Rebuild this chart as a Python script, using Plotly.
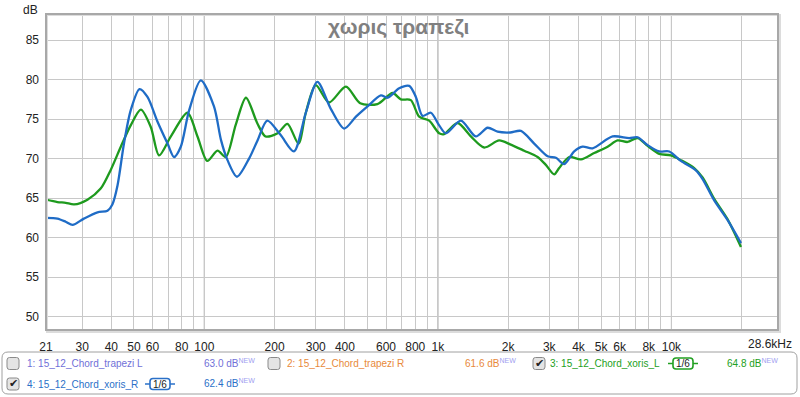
import math
import plotly.graph_objects as go

# ---------------- data ----------------
blue_freq = [21, 23.5, 25.5, 27.3, 30.5, 34.9, 38.5, 40.4, 42.5, 45.3, 48.4, 52.8, 57.1, 63, 69.6, 74.2,
             79.3, 86.1, 96.6, 110, 118, 125.7, 138, 155.5, 169, 186, 212, 242, 272, 305, 348, 397, 446,
             500, 570, 609, 683, 754, 805, 860, 933, 1013, 1082, 1255, 1454, 1633, 1802, 2040, 2268,
             2585, 2950, 3202, 3475, 3835, 4166, 4597, 5600, 6595, 7170, 7910, 8870, 9790, 10980,
             12730, 13600, 15250, 17410, 19850]
blue_db = [62.5, 62.4, 62.0, 61.6, 62.4, 63.2, 63.4, 64.2, 66.6, 71.9, 76.1, 78.8, 77.8, 74.7, 71.9, 70.2,
           71.5, 76.1, 79.9, 76.6, 72.3, 69.8, 67.7, 70.0, 72.3, 74.8, 73.0, 70.9, 75.8, 79.7, 76.3, 73.8, 75.3,
           76.6, 78.0, 77.7, 78.9, 79.2, 77.8, 75.4, 75.8, 74.2, 73.2, 74.8, 72.8, 73.9, 73.4, 73.3, 73.5,
           71.9, 70.3, 70.1, 69.3, 70.9, 71.5, 71.3, 72.8, 72.6, 72.7, 71.7, 70.9, 70.9, 69.7,
           68.5, 67.4, 64.7, 62.2, 59.3]

green_freq = [21, 23.5, 25.5, 27.7, 31.6, 36.0, 39.8, 43.9, 48.4, 53.5, 59.0, 64.0, 71.9, 84.7, 93.5, 103,
              113.9, 123.6, 136.4, 150.8, 169, 183, 206, 227, 253, 272, 300, 342, 404, 465, 551, 640, 694,
              766, 832, 918, 1013, 1064, 1215, 1385, 1579, 1830, 2040, 2342, 2673, 2900, 3150, 3307, 3650,
              4097, 4670, 5330, 5880, 6490, 7170, 7910, 8870, 9950, 10980, 12520, 13600, 15250, 17410, 19850]
green_db = [64.8, 64.5, 64.4, 64.2, 64.8, 66.2, 68.6, 71.5, 74.2, 76.2, 74.0, 70.4, 72.8, 75.8, 72.8, 69.7,
            71.0, 70.2, 74.3, 77.7, 74.4, 72.8, 73.2, 74.4, 71.9, 75.8, 79.3, 77.1, 79.1, 77.0, 76.9, 78.3, 77.5,
            77.4, 75.3, 74.8, 73.2, 73.1, 74.5, 72.8, 71.4, 72.3, 71.8, 71.0, 70.2, 69.2, 68.0, 68.8, 70.2,
            69.9, 70.7, 71.5, 72.3, 72.1, 72.6, 71.6, 70.6, 70.4, 69.8, 68.8, 67.6, 64.9, 62.3, 58.8]

label_freqs = [21, 30, 40, 50, 60, 80, 100, 200, 300, 400, 600, 800,
               1000, 2000, 3000, 4000, 5000, 6000, 8000, 10000]
label_texts = ["21", "30", "40", "50", "60", "80", "100", "200", "300", "400", "600", "800",
               "1k", "2k", "3k", "4k", "5k", "6k", "8k", "10k"]
minor_grid_freqs = [70, 90, 500, 700, 900, 7000, 9000, 20000]
decade_freqs = [100, 1000, 10000]
y_ticks = [50, 55, 60, 65, 70, 75, 80, 85]

legend_names = ["1: 15_12_Chord_trapezi L", "2: 15_12_Chord_trapezi R",
                "3: 15_12_Chord_xoris_L", "4: 15_12_Chord_xoris_R"]
legend_levels = ["63.0 dB", "61.6 dB", "64.8 dB", "62.4 dB"]
legend_colors = ["#7070d8", "#e8893a", "#22a022", "#2a70c8"]
legend_checked = [False, False, True, True]

BLUE = "#1f6cc6"
GREEN = "#1e9a1e"

# ---------------- geometry helpers ----------------
L, R, T, B = 46, 778, 14, 330
W, H = 800, 397


def px(x):
    return (x - L) / (R - L)


def py(y):
    return (B - y) / (B - T)


def rrect(x0, y0, x1, y1, r):
    rx = r / (R - L)
    ry = r / (B - T)
    X0, X1, Y0, Y1 = px(x0), px(x1), py(y1), py(y0)
    return (f"M {X0+rx},{Y0} L {X1-rx},{Y0} Q {X1},{Y0} {X1},{Y0+ry} L {X1},{Y1-ry} "
            f"Q {X1},{Y1} {X1-rx},{Y1} L {X0+rx},{Y1} Q {X0},{Y1} {X0},{Y1-ry} "
            f"L {X0},{Y0+ry} Q {X0},{Y0} {X0+rx},{Y0} Z")


fig = go.Figure()
fig.add_trace(go.Scatter(x=green_freq, y=green_db, mode="lines",
                         line=dict(color=GREEN, width=2.3, shape="spline", smoothing=0.8),
                         hoverinfo="skip", showlegend=False))
fig.add_trace(go.Scatter(x=blue_freq, y=blue_db, mode="lines",
                         line=dict(color=BLUE, width=2.3, shape="spline", smoothing=0.8),
                         hoverinfo="skip", showlegend=False))

shapes = []
for f in decade_freqs:
    shapes.append(dict(type="line", xref="x", yref="paper", x0=f, x1=f, y0=0, y1=1,
                       line=dict(color="#8c8c8c", width=1), layer="below"))
# plot frame with shadow
shapes.append(dict(type="rect", xref="paper", yref="paper", x0=px(L + 1), x1=px(R + 2), y0=py(B + 2), y1=py(T + 1),
                   line=dict(color="#dcdcdc", width=2), layer="above"))
shapes.append(dict(type="rect", xref="paper", yref="paper", x0=0, x1=1, y0=0, y1=1,
                   line=dict(color="#a8a8a8", width=2), layer="above"))

# legend box
shapes.append(dict(type="path", xref="paper", yref="paper", path=rrect(2, 352, 797, 394, 6),
                   line=dict(color="#a0a0a0", width=1), fillcolor="#ffffff"))

annotations = []
annotations.append(dict(text="<b>χωρις τραπεζι</b>", xref="paper", yref="paper", x=px(398), y=py(27),
                        showarrow=False, font=dict(family="Liberation Sans", size=21, color="#808080"),
                        xanchor="center", yanchor="middle"))
annotations.append(dict(text="dB", xref="paper", yref="paper", x=px(40), y=py(1), showarrow=False,
                        font=dict(family="Liberation Sans", size=12, color="#222222"),
                        xanchor="right", yanchor="top"))
annotations.append(dict(text="28.6kHz", xref="paper", yref="paper", x=px(794), y=py(344), showarrow=False,
                        font=dict(family="Liberation Sans", size=12, color="#222222"),
                        xanchor="right", yanchor="middle"))

# legend entries: (checkbox x, text x, level x, row y, smoothing box x)
entries = [
    (7, 25, 202, 363.5, None),
    (268, 285, 463, 363.5, None),
    (533, 548, 725, 363.5, 668),
    (7, 25, 202, 384, 145),
]
for i, (cx, tx, lx, ry, sx) in enumerate(entries):
    col = legend_colors[i]
    shapes.append(dict(type="path", xref="paper", yref="paper", path=rrect(cx, ry - 6, cx + 12, ry + 6, 2.5),
                       line=dict(color="#8a8a8a", width=1), fillcolor="#e4e4e4"))
    if legend_checked[i]:
        annotations.append(dict(text="✔", xref="paper", yref="paper", x=px(cx + 6.5), y=py(ry - 0.5),
                                showarrow=False, font=dict(family="DejaVu Sans", size=11, color="#222222"),
                                xanchor="center", yanchor="middle"))
    annotations.append(dict(text=legend_names[i], xref="paper", yref="paper", x=px(tx), y=py(ry),
                            showarrow=False, font=dict(family="Liberation Sans", size=10, color=col),
                            xanchor="left", yanchor="middle"))
    annotations.append(dict(text=f"{legend_levels[i]}<sup><span style='color:#a0a0f0'>NEW</span></sup>",
                            xref="paper", yref="paper", x=px(lx), y=py(ry - 1),
                            showarrow=False, font=dict(family="Liberation Sans", size=10, color=col),
                            xanchor="left", yanchor="middle"))
    if sx is not None:
        shapes.append(dict(type="line", xref="paper", yref="paper", x0=px(sx), x1=px(sx + 30), y0=py(ry), y1=py(ry),
                           line=dict(color=col, width=1.5)))
        shapes.append(dict(type="path", xref="paper", yref="paper", path=rrect(sx + 5, ry - 5.5, sx + 25, ry + 5.5, 3),
                           line=dict(color=col, width=1.6), fillcolor="#ffffff"))
        annotations.append(dict(text="1/6", xref="paper", yref="paper", x=px(sx + 15), y=py(ry),
                                showarrow=False, font=dict(family="Liberation Sans", size=10, color="#222222"),
                                xanchor="center", yanchor="middle"))

fig.update_layout(
    width=W, height=H, autosize=False,
    margin=dict(l=L, r=W - R, t=T, b=H - B, pad=0),
    paper_bgcolor="#ffffff", plot_bgcolor="#ffffff",
    showlegend=False,
    shapes=shapes, annotations=annotations,
    xaxis=dict(type="log", range=[math.log10(21), math.log10(28600)],
               tickvals=label_freqs, ticktext=label_texts, tickmode="array",
               showgrid=True, gridcolor="#c8c8c8", gridwidth=1, zeroline=False, showline=False,
               minor=dict(tickmode="array", tickvals=minor_grid_freqs, showgrid=True,
                          gridcolor="#c8c8c8", gridwidth=1, ticks=""),
               ticks="", tickfont=dict(family="Liberation Sans", size=12, color="#222222"),
               ticklabelstandoff=8, fixedrange=True),
    yaxis=dict(range=[48.3, 88.3], tickvals=y_ticks, tickmode="array",
               showgrid=True, gridcolor="#c8c8c8", gridwidth=1, zeroline=False, showline=False,
               ticks="", tickfont=dict(family="Liberation Sans", size=12, color="#222222"),
               ticklabelstandoff=6, fixedrange=True),
)

fig.write_html("out.html")
